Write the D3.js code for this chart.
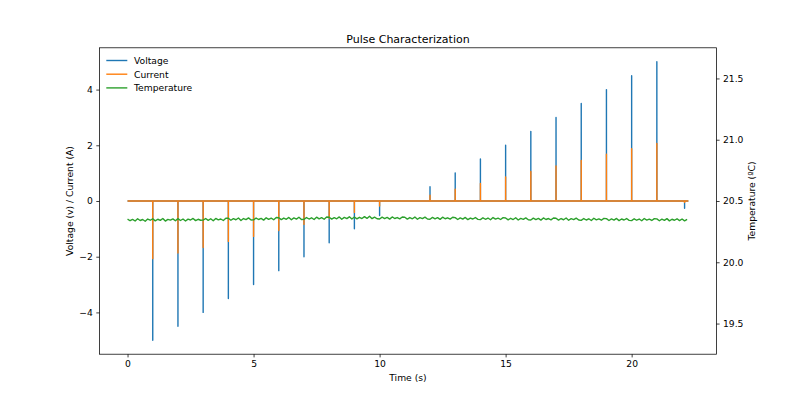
<!DOCTYPE html>
<html>
<head>
<meta charset="utf-8">
<script src="https://cdn.jsdelivr.net/npm/d3@7"></script>
<style>
html,body{margin:0;padding:0;background:#fff;}
text{font-family:"DejaVu Sans",sans-serif;fill:#000;}
</style>
</head>
<body>
<svg id="chart" width="796" height="398"></svg>
<script>
// ---- data ----
const pulseTimes   = [1, 2, 3, 4, 5, 6, 7, 8, 9, 10, 12, 13, 14, 15, 16, 17, 18, 19, 20, 21, 22.1];
const pulseVoltage = [-5.0, -4.5, -4.0, -3.5, -3.0, -2.5, -2.0, -1.5, -1.0, -0.52, 0.51, 1.01, 1.51, 2.0, 2.5, 3.0, 3.5, 4.0, 4.5, 5.0, -0.26];
const pulseCurrent = [-2.07, -1.87, -1.67, -1.45, -1.27, -1.06, -0.84, -0.62, -0.41, -0.18, 0.21, 0.42, 0.63, 0.86, 1.06, 1.26, 1.46, 1.68, 1.88, 2.07, -0.05];
const timeStart = 0;
const timeEnd = 22.25;
const tempStep = 0.1;
const temperature = [
 20.352,20.339,20.350,20.337,20.355,20.341,20.349,20.335,20.353,20.343,
 20.355,20.338,20.351,20.342,20.357,20.336,20.350,20.344,20.354,20.339,
 20.356,20.341,20.353,20.337,20.352,20.345,20.358,20.340,20.351,20.343,
 20.344,20.357,20.342,20.355,20.339,20.358,20.346,20.353,20.341,20.360,
 20.359,20.343,20.356,20.347,20.361,20.341,20.357,20.348,20.362,20.345,
 20.346,20.361,20.349,20.358,20.344,20.363,20.350,20.360,20.347,20.365,
 20.363,20.348,20.361,20.351,20.366,20.347,20.362,20.352,20.367,20.349,
 20.350,20.365,20.353,20.363,20.349,20.368,20.354,20.364,20.351,20.369,
 20.367,20.352,20.364,20.355,20.370,20.351,20.366,20.356,20.371,20.353,
 20.369,20.354,20.367,20.357,20.372,20.358,20.376,20.356,20.368,20.355,
 20.353,20.368,20.356,20.366,20.352,20.370,20.357,20.365,20.354,20.369,
 20.367,20.352,20.365,20.355,20.369,20.351,20.364,20.356,20.368,20.353,
 20.351,20.366,20.354,20.364,20.350,20.368,20.355,20.363,20.352,20.367,
 20.364,20.349,20.362,20.352,20.366,20.348,20.361,20.353,20.365,20.350,
 20.348,20.363,20.351,20.361,20.347,20.365,20.352,20.360,20.349,20.364,
 20.361,20.346,20.359,20.349,20.363,20.345,20.358,20.350,20.362,20.347,
 20.345,20.360,20.348,20.358,20.344,20.362,20.349,20.357,20.346,20.361,
 20.359,20.344,20.357,20.347,20.361,20.343,20.356,20.348,20.360,20.345,
 20.342,20.357,20.345,20.355,20.341,20.359,20.346,20.354,20.343,20.358,
 20.356,20.341,20.354,20.344,20.358,20.340,20.353,20.345,20.357,20.342,
 20.340,20.355,20.343,20.353,20.339,20.357,20.344,20.352,20.341,20.356,
 20.354,20.339,20.352,20.342,20.356,20.338,20.351,20.343,20.355,20.340,
 20.353,20.338,20.350
];
const xTicks = [0, 5, 10, 15, 20];
const yLeftTicks = [-4, -2, 0, 2, 4];
const yRightTicks = [19.5, 20.0, 20.5, 21.0, 21.5];
const seriesNames = ["Voltage", "Current", "Temperature"];
const seriesColors = ["#1f77b4", "#ff7f0e", "#2ca02c"];

// ---- layout ----
const W = 796, H = 398;
const L = 99.5, R = 716.4, T = 47.8, B = 354.2;
const svg = d3.select("#chart");

const span = timeEnd - timeStart;
const x = d3.scaleLinear().domain([timeStart - 0.05 * span, timeEnd + 0.05 * span]).range([L, R]);
const yL = d3.scaleLinear().domain([-5.5, 5.5]).range([B, T]);
const yR = d3.scaleLinear().domain([19.25, 21.75]).range([B, T]);

// build pulse paths
function pulsePoints(vals) {
  const pts = [[timeStart, 0]];
  pulseTimes.forEach((t, i) => { pts.push([t, 0], [t, vals[i]], [t, 0]); });
  pts.push([timeEnd, 0]);
  return pts;
}
const tempPts = temperature.map((v, i) => [timeStart + i * tempStep, v]);

const lineL = d3.line().x(d => x(d[0])).y(d => yL(d[1]));
const lineR = d3.line().x(d => x(d[0])).y(d => yR(d[1]));

const plot = svg.append("g");
plot.append("path").datum(pulsePoints(pulseVoltage)).attr("d", lineL)
  .attr("fill", "none").attr("stroke", seriesColors[0]).attr("stroke-width", 1.4).attr("stroke-linejoin", "round");
plot.append("path").datum(pulsePoints(pulseCurrent)).attr("d", lineL)
  .attr("fill", "none").attr("stroke", seriesColors[1]).attr("stroke-width", 1.4).attr("stroke-linejoin", "round");
plot.append("path").datum(tempPts).attr("d", lineR)
  .attr("fill", "none").attr("stroke", seriesColors[2]).attr("stroke-width", 1.4).attr("stroke-linejoin", "round");

// axes
const fs = 9.2;
const fmtL = d3.format("d");
const fmtR = d3.format(".1f");
const gx = svg.append("g").attr("transform", `translate(0,${B})`)
  .call(d3.axisBottom(x).tickValues(xTicks).tickSize(3.2).tickPadding(3.4).tickFormat(fmtL));
const gl = svg.append("g").attr("transform", `translate(${L},0)`)
  .call(d3.axisLeft(yL).tickValues(yLeftTicks).tickSize(3.2).tickPadding(3.4).tickFormat(fmtL));
const gr = svg.append("g").attr("transform", `translate(${R},0)`)
  .call(d3.axisRight(yR).tickValues(yRightTicks).tickSize(3.2).tickPadding(3.4).tickFormat(fmtR));
[gx, gl, gr].forEach(g => {
  g.select(".domain").remove();
  g.selectAll(".tick line").attr("stroke", "#000").attr("stroke-width", 0.75);
  g.selectAll(".tick text").attr("font-size", fs).attr("font-family", "DejaVu Sans").attr("fill", "#000");
});

// spines
svg.append("rect").attr("x", L).attr("y", T).attr("width", R - L).attr("height", B - T)
  .attr("fill", "none").attr("stroke", "#000").attr("stroke-width", 0.75);

// labels
svg.append("text").attr("x", (L + R) / 2).attr("y", 43).attr("text-anchor", "middle")
  .attr("font-size", 11).text("Pulse Characterization");
svg.append("text").attr("x", (L + R) / 2).attr("y", 381).attr("text-anchor", "middle")
  .attr("font-size", fs).text("Time (s)");
svg.append("text").attr("transform", `translate(73,${(T + B) / 2}) rotate(-90)`).attr("text-anchor", "middle")
  .attr("font-size", fs).text("Voltage (v) / Current (A)");
svg.append("text").attr("transform", `translate(755,${(T + B) / 2}) rotate(-90)`).attr("text-anchor", "middle")
  .attr("font-size", fs).text("Temperature (ºC)");

// legend
const lg = svg.append("g");
seriesNames.forEach((n, i) => {
  const cy = 60.5 + i * 13.7;
  lg.append("line").attr("x1", 106.3).attr("x2", 127.3).attr("y1", cy).attr("y2", cy)
    .attr("stroke", seriesColors[i]).attr("stroke-width", 1.4);
  lg.append("text").attr("x", 134).attr("y", cy + 3.3).attr("font-size", fs).text(n);
});
</script>
</body>
</html>
